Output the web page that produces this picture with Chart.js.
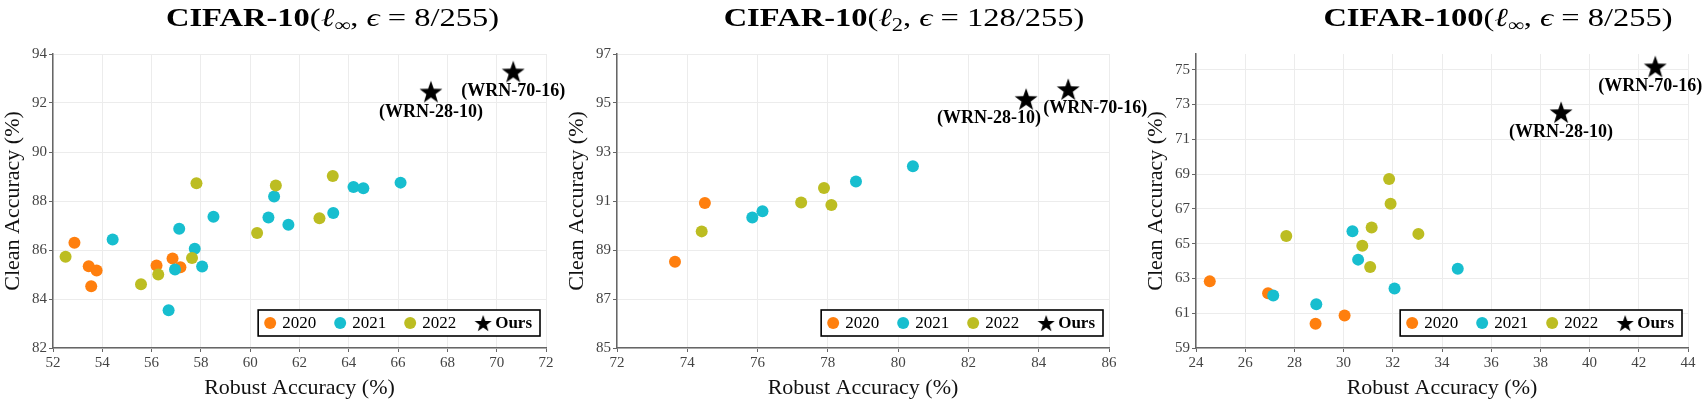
<!DOCTYPE html>
<html>
<head>
<meta charset="utf-8">
<script src="https://cdn.jsdelivr.net/npm/chart.js@4.4.1/dist/chart.umd.min.js"></script>
<style>
  html, body { margin: 0; padding: 0; background: #fff; }
  #wrap { position: relative; width: 1702px; height: 401px; overflow: hidden; }
  canvas { position: absolute; top: 0; }
</style>
</head>
<body>
<div id="wrap">
  <canvas id="c1" width="566" height="401" style="left:0px;width:566px;height:401px"></canvas>
  <canvas id="c2" width="585" height="401" style="left:564px;width:585px;height:401px"></canvas>
  <canvas id="c3" width="559" height="401" style="left:1143px;width:559px;height:401px"></canvas>
</div>
<script>
// series names and model labels
const seriesNames = ['2020', '2021', '2022', 'Ours'];
const oursLabels = ['(WRN-28-10)', '(WRN-70-16)'];

// CIFAR-10, l-inf  [robust, clean]
const c10Linf2020 = [[52.87, 86.30], [53.45, 85.34], [53.77, 85.16], [53.55, 84.52], [56.20, 85.37], [56.85, 85.65], [57.17, 85.30]];
const c10Linf2021 = [[54.42, 86.43], [56.69, 83.54], [56.95, 85.20], [57.12, 86.87], [57.75, 86.05], [58.05, 85.33], [58.51, 87.36],
                     [60.74, 87.33], [60.97, 88.18], [61.55, 87.03], [63.37, 87.51], [64.19, 88.57], [64.59, 88.52], [66.10, 88.75]];
const c10Linf2022 = [[52.51, 85.72], [55.57, 84.60], [56.27, 85.00], [57.64, 85.67], [57.82, 88.72], [60.28, 86.69], [61.04, 88.63],
                     [62.81, 87.30], [63.35, 89.02]];
const c10LinfOurs = [[67.33, 92.47], [70.67, 93.29]];

// CIFAR-10, l2
const c10L22020 = [[73.65, 88.52], [74.50, 90.92]];
const c10L22021 = [[75.85, 90.33], [76.14, 90.58], [78.80, 91.80], [80.42, 92.42]];
const c10L22022 = [[74.41, 89.76], [77.24, 90.94], [77.89, 91.53], [78.10, 90.84]];
const c10L2Ours = [[83.64, 95.17], [84.84, 95.57]];

// CIFAR-100, l-inf
const c100Linf2020 = [[24.56, 62.83], [26.93, 62.15], [28.86, 60.40], [30.04, 60.87]];
const c100Linf2021 = [[27.14, 62.02], [28.89, 61.52], [30.36, 65.71], [30.59, 64.08], [32.07, 62.42], [34.64, 63.56]];
const c100Linf2022 = [[27.67, 65.44], [30.76, 64.88], [31.08, 63.65], [31.14, 65.92], [31.85, 68.71], [31.91, 67.29], [33.04, 65.56]];
const c100LinfOurs = [[38.84, 72.56], [42.67, 75.19]];

// tick values
const xTicks1 = [52, 54, 56, 58, 60, 62, 64, 66, 68, 70, 72];
const yTicks1 = [82, 84, 86, 88, 90, 92, 94];
const xTicks2 = [72, 74, 76, 78, 80, 82, 84, 86];
const yTicks2 = [85, 87, 89, 91, 93, 95, 97];
const xTicks3 = [24, 26, 28, 30, 32, 34, 36, 38, 40, 42, 44];
const yTicks3 = [59, 61, 63, 65, 67, 69, 71, 73, 75];

const colors = ['#ff7f0e', '#17becf', '#bcbd22', '#000000'];
const SERIF = '"Liberation Serif", "Times New Roman", serif';
Chart.defaults.font.family = SERIF;

// filled five point star used as marker
function starPath(ctx, cx, cy, R, r) {
  ctx.beginPath();
  for (let i = 0; i < 10; i++) {
    const rad = i % 2 === 0 ? R : r;
    const a = -Math.PI / 2 + i * Math.PI / 5;
    const px = cx + rad * Math.cos(a), py = cy + rad * Math.sin(a);
    if (i === 0) ctx.moveTo(px, py); else ctx.lineTo(px, py);
  }
  ctx.closePath();
}
function makeStar(size) {
  const c = document.createElement('canvas');
  c.width = size; c.height = size;
  const g = c.getContext('2d');
  g.fillStyle = '#000';
  starPath(g, size / 2, size / 2 + size * 0.05, size / 2, size / 2 * 0.4);
  g.fill();
  return c;
}
const starBig = makeStar(24);
const starSmall = makeStar(18);

// mixed-font title above each plot (stretched a bit, like the TeX font)
const mathTitle = {
  id: 'mathTitle',
  afterDraw(chart, args, opts) {
    const { ctx, chartArea } = chart;
    const fs = 26, stretch = 1.25;
    const parts = [
      { t: opts.name, f: `bold ${fs}px ${SERIF}` },
      { t: '(', f: `${fs}px ${SERIF}` },
      { t: 'ℓ', f: `italic ${fs}px ${SERIF}` },
      { t: opts.norm, f: `${Math.round(fs * 0.7)}px ${SERIF}`, dy: 5 },
      { t: ', ', f: `${fs}px ${SERIF}` },
      { t: 'ϵ', f: `italic ${fs}px ${SERIF}` },
      { t: ' = ' + opts.eps + ')', f: `${fs}px ${SERIF}` }
    ];
    ctx.save();
    let total = 0;
    parts.forEach(p => { ctx.font = p.f; p.w = ctx.measureText(p.t).width; total += p.w; });
    const cx = (chartArea.left + chartArea.right) / 2 + opts.shift;
    ctx.translate(cx, 0);
    ctx.scale(stretch, 1);
    let x = -total / 2;
    ctx.fillStyle = '#000';
    ctx.textBaseline = 'alphabetic';
    parts.forEach(p => { ctx.font = p.f; ctx.fillText(p.t, x, 26 + (p.dy || 0)); x += p.w; });
    ctx.restore();
  }
};

// boxed legend in the lower right corner
const boxLegend = {
  id: 'boxLegend',
  afterDraw(chart) {
    const { ctx, chartArea } = chart;
    const items = chart.data.datasets.map(ds => ({ label: ds.label, color: ds.backgroundColor, star: ds.label === 'Ours' }));
    ctx.save();
    let w = 6;
    items.forEach((it, i) => {
      ctx.font = (it.star ? 'bold ' : '') + `17px ${SERIF}`;
      it.tw = ctx.measureText(it.label).width;
      it.mw = it.star ? 18 : 12;
      it.gap = it.star ? 3 : 6;
      w += it.mw + it.gap + it.tw + (i < items.length - 1 ? 18 : 0);
    });
    w += 8;
    const h = 26;
    const right = chartArea.right - 6, bottom = chartArea.bottom - 12;
    const left = right - w, top = bottom - h;
    ctx.fillStyle = '#fff';
    ctx.fillRect(left, top, w, h);
    ctx.strokeStyle = '#000';
    ctx.lineWidth = 1.6;
    ctx.strokeRect(left, top, w, h);
    let x = left + 6;
    const cy = top + h / 2;
    ctx.textBaseline = 'middle';
    items.forEach(it => {
      if (it.star) {
        ctx.drawImage(starSmall, x, cy - 9, 18, 18);
      } else {
        ctx.fillStyle = it.color;
        ctx.beginPath();
        ctx.arc(x + 6, cy, 6, 0, Math.PI * 2);
        ctx.fill();
      }
      x += it.mw + it.gap;
      ctx.fillStyle = '#000';
      ctx.font = (it.star ? 'bold ' : '') + `17px ${SERIF}`;
      ctx.fillText(it.label, x, cy + 1);
      x += it.tw + 18;
    });
    ctx.restore();
  }
};

// model names under the stars
const starLabels = {
  id: 'starLabels',
  afterDraw(chart, args, opts) {
    const { ctx } = chart;
    const idx = chart.data.datasets.findIndex(ds => ds.label === 'Ours');
    const meta = chart.getDatasetMeta(idx);
    ctx.save();
    ctx.font = `bold 18px ${SERIF}`;
    ctx.fillStyle = '#000';
    ctx.textAlign = 'center';
    ctx.textBaseline = 'middle';
    meta.data.forEach((pt, i) => {
      const off = opts.offsets[i];
      ctx.fillText(oursLabels[i], pt.x + off[0], pt.y + off[1]);
    });
    ctx.restore();
  }
};

function toPoints(arr) { return arr.map(p => ({ x: p[0], y: p[1] })); }

function makeChart(id, cfg) {
  const datasets = cfg.series.map((s, i) => {
    const star = i === 3;
    return {
      label: seriesNames[i],
      data: toPoints(s),
      backgroundColor: colors[i],
      borderColor: colors[i],
      borderWidth: 0,
      pointRadius: star ? 12 : 6,
      pointStyle: star ? starBig : 'circle',
      order: star ? 0 : 3 - i + 1
    };
  });
  const axisCommon = {
    type: 'linear',
    grid: { color: '#ececec', lineWidth: 1, tickLength: 4, tickColor: '#666' },
    border: { display: true, color: '#666', width: 1.5 },
    ticks: { color: '#444', font: { size: 15, family: SERIF }, padding: 2 }
  };
  return new Chart(document.getElementById(id), {
    type: 'scatter',
    data: { datasets },
    options: {
      responsive: false,
      animation: false,
      events: [],
      layout: { padding: { top: 54, right: cfg.padRight, left: 0, bottom: 0 } },
      scales: {
        x: {
          ...axisCommon,
          min: cfg.xTicks[0], max: cfg.xTicks[cfg.xTicks.length - 1],
          afterBuildTicks: s => { s.ticks = cfg.xTicks.map(v => ({ value: v })); },
          afterFit: s => { s.height = 53; },
          title: { display: true, text: 'Robust Accuracy (%)', color: '#111', font: { size: 22, family: SERIF }, padding: { top: 3, bottom: 0 } }
        },
        y: {
          ...axisCommon,
          min: cfg.yTicks[0], max: cfg.yMax,
          afterBuildTicks: s => { s.ticks = cfg.yTicks.map(v => ({ value: v })); },
          afterFit: s => { s.width = 53; },
          title: { display: true, text: 'Clean Accuracy (%)', color: '#111', font: { size: 22, family: SERIF }, padding: { top: 0, bottom: 0 } }
        }
      },
      plugins: {
        legend: { display: false },
        tooltip: { enabled: false },
        mathTitle: cfg.title,
        starLabels: { offsets: cfg.labelOffsets }
      }
    },
    plugins: [mathTitle, boxLegend, starLabels]
  });
}

makeChart('c1', {
  series: [c10Linf2020, c10Linf2021, c10Linf2022, c10LinfOurs],
  xTicks: xTicks1, yTicks: yTicks1, yMax: 94,
  padRight: 20,
  title: { name: 'CIFAR-10', norm: '∞', eps: '8/255', shift: 33 },
  labelOffsets: [[0, 21], [0, 20]]
});
makeChart('c2', {
  series: [c10L22020, c10L22021, c10L22022, c10L2Ours],
  xTicks: xTicks2, yTicks: yTicks2, yMax: 97,
  padRight: 40,
  title: { name: 'CIFAR-10', norm: '2', eps: '128/255', shift: 41 },
  labelOffsets: [[-37, 20], [27, 19]]
});
makeChart('c3', {
  series: [c100Linf2020, c100Linf2021, c100Linf2022, c100LinfOurs],
  xTicks: xTicks3, yTicks: yTicks3, yMax: 75.9,
  padRight: 14,
  title: { name: 'CIFAR-100', norm: '∞', eps: '8/255', shift: 56 },
  labelOffsets: [[0, 20], [-5, 20]]
});
</script>
</body>
</html>
